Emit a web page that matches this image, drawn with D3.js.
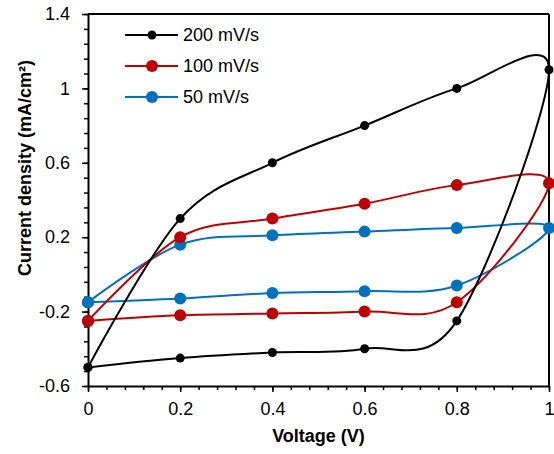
<!DOCTYPE html>
<html>
<head>
<meta charset="utf-8">
<script src="https://cdn.jsdelivr.net/npm/d3@7"></script>
<style>
  body { margin: 0; background: #fff; }
  text { font-family: "Liberation Sans", Arial, sans-serif; }
  .tickLabel { font-size: 18px; fill: #000; }
  .axisText { font-size: 18px; font-weight: bold; fill: #000; }
  .legendText { font-size: 18px; fill: #000; }
</style>
</head>
<body>
<div id="chart"></div>
<script>
// scan data: forward sweep 0 -> 1 V, then reverse 1 -> 0 V
var voltage = [0, 0.2, 0.4, 0.6, 0.8, 1, 0.8, 0.6, 0.4, 0.2, 0];
var cd200 = [-0.5, 0.3, 0.6, 0.8, 1.0, 1.1, -0.25, -0.4, -0.42, -0.45, -0.5];
var cd100 = [-0.25, 0.2, 0.3, 0.38, 0.48, 0.49, -0.15, -0.2, -0.21, -0.22, -0.25];
var cd50 = [-0.15, 0.16, 0.21, 0.23, 0.25, 0.25, -0.06, -0.09, -0.1, -0.13, -0.15];

var seriesNames = ["200 mV/s", "100 mV/s", "50 mV/s"];
var seriesColors = ["#000000", "#C00000", "#0070C0"];

var xTicks = [0, 0.2, 0.4, 0.6, 0.8, 1];
var xTickLabels = ["0", "0.2", "0.4", "0.6", "0.8", "1"];
var yTicks = [-0.6, -0.2, 0.2, 0.6, 1, 1.4];
var yTickLabels = ["-0.6", "-0.2", "0.2", "0.6", "1", "1.4"];

var svgWidth = 554;
var svgHeight = 454;
var margin = { top: 14, right: 5, bottom: 68, left: 88 };
var width = svgWidth - margin.left - margin.right;
var height = svgHeight - margin.top - margin.bottom;

var svg = d3.select("#chart")
  .append("svg")
  .attr("width", svgWidth)
  .attr("height", svgHeight);

var chartGroup = svg.append("g")
  .attr("transform", `translate(${margin.left}, ${margin.top})`);

var xScale = d3.scaleLinear().domain([0, 1]).range([0, width]);
var yScale = d3.scaleLinear().domain([-0.6, 1.4]).range([height, 0]);

// minor ticks
var xMinor = d3.range(0, 1.0001, 0.04);
var yMinor = d3.range(-0.6, 1.4001, 0.08);

chartGroup.append("g")
  .attr("transform", `translate(0, ${height})`)
  .call(d3.axisBottom(xScale).tickValues(xMinor).tickSize(4).tickSizeOuter(0).tickFormat(""))
  .call(g => g.select(".domain").remove());
chartGroup.append("g")
  .call(d3.axisLeft(yScale).tickValues(yMinor).tickSize(4).tickSizeOuter(0).tickFormat(""))
  .call(g => g.select(".domain").remove());

// major axes
var bottomAxis = d3.axisBottom(xScale)
  .tickValues(xTicks)
  .tickSize(6)
  .tickSizeOuter(0)
  .tickPadding(10)
  .tickFormat((d, i) => xTickLabels[i]);
var leftAxis = d3.axisLeft(yScale)
  .tickValues(yTicks)
  .tickSize(6)
  .tickSizeOuter(0)
  .tickPadding(12)
  .tickFormat((d, i) => yTickLabels[i]);

var xAxisG = chartGroup.append("g")
  .attr("transform", `translate(0, ${height})`)
  .call(bottomAxis);
var yAxisG = chartGroup.append("g")
  .call(leftAxis);

[xAxisG, yAxisG].forEach(function(g) {
  g.attr("font-size", null).attr("font-family", null);
  g.selectAll("text").attr("class", "tickLabel");
  g.select(".domain").attr("stroke-width", 2);
});
svg.selectAll("g.tick line").attr("stroke-width", 1.5);

// top and right frame
chartGroup.append("line")
  .attr("x1", 0).attr("x2", width)
  .attr("y1", 0).attr("y2", 0)
  .attr("stroke", "#000").attr("stroke-width", 2);
chartGroup.append("line")
  .attr("x1", width).attr("x2", width)
  .attr("y1", 0).attr("y2", height)
  .attr("stroke", "#000").attr("stroke-width", 2);

// series
var allSeries = [cd200, cd100, cd50];
var radii = [4.5, 6, 6];
var line = d3.line()
  .x(d => xScale(d[0]))
  .y(d => yScale(d[1]))
  .curve(d3.curveCardinal.tension(0));

// draw blue first, black on top
for (var s = allSeries.length - 1; s >= 0; s--) {
  var pts = voltage.map((v, i) => [v, allSeries[s][i]]);
  chartGroup.append("path")
    .datum(pts)
    .attr("fill", "none")
    .attr("stroke", seriesColors[s])
    .attr("stroke-width", 2)
    .attr("d", line);
  chartGroup.selectAll(null)
    .data(pts)
    .enter()
    .append("circle")
    .attr("cx", d => xScale(d[0]))
    .attr("cy", d => yScale(d[1]))
    .attr("r", radii[s])
    .attr("fill", seriesColors[s]);
}

// legend
var legend = svg.append("g").attr("transform", "translate(125, 35)");
seriesNames.forEach(function(name, i) {
  var row = legend.append("g").attr("transform", `translate(0, ${i * 31})`);
  row.append("line")
    .attr("x1", 0).attr("x2", 53)
    .attr("stroke", seriesColors[i]).attr("stroke-width", 2);
  row.append("circle")
    .attr("cx", 27).attr("r", radii[i])
    .attr("fill", seriesColors[i]);
  row.append("text")
    .attr("class", "legendText")
    .attr("x", 58)
    .attr("dy", "0.35em")
    .text(name);
});

// axis labels
svg.append("text")
  .attr("class", "axisText")
  .attr("text-anchor", "middle")
  .attr("x", margin.left + width / 2)
  .attr("y", 442)
  .text("Voltage (V)");

svg.append("text")
  .attr("class", "axisText")
  .attr("text-anchor", "middle")
  .attr("transform", "translate(31, 168) rotate(-90)")
  .text("Current density (mA/cm²)");
</script>
</body>
</html>
